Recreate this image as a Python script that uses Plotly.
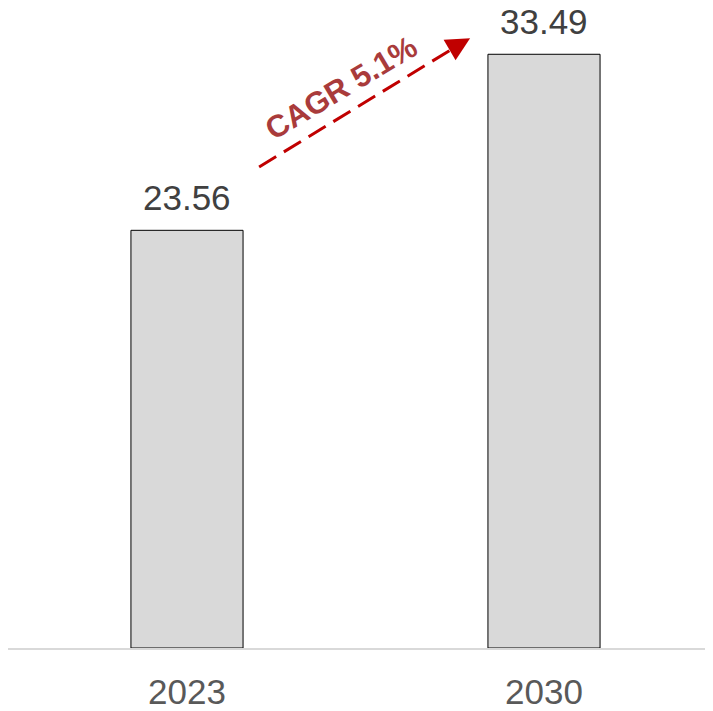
import plotly.graph_objects as go

# Data
years = ["2023", "2030"]
market_size = [23.56, 33.49]
cagr_label = "CAGR 5.1%"

# Colors
BAR_FILL = "#D9D9D9"
BAR_EDGE = "#000000"
AXIS_LINE = "#D9D9D9"
VALUE_TEXT = "#404040"
TICK_TEXT = "#595959"
ARROW_RED = "#C00000"
CAGR_TEXT = "#A93B3B"

FONT = "Arial, Liberation Sans, sans-serif"

fig = go.Figure()

fig.add_trace(go.Bar(
    x=years,
    y=market_size,
    width=0.314,
    marker=dict(color=BAR_FILL, line=dict(color=BAR_EDGE, width=1)),
    hoverinfo="skip",
))

# value labels above bars
annotations = []
for i, val in enumerate(market_size):
    annotations.append(dict(
        x=i, y=val, xref="x", yref="y", text=f"{val:.2f}",
        showarrow=False, yanchor="bottom", yshift=11,
        font=dict(family=FONT, size=35, color=VALUE_TEXT),
    ))

# dashed CAGR arrow between the bars
x0, y0 = 0.202, market_size[0] + 3.57
x1, y1 = 0.793, market_size[1] + 0.91
fig.add_shape(
    type="line", xref="x", yref="y",
    x0=x0, y0=y0, x1=x1 - 0.034, y1=y1 - 0.41,
    line=dict(color=ARROW_RED, width=3, dash="20px,9px"),
)
annotations.append(dict(
    x=x1, y=y1, xref="x", yref="y",
    ax=-12, ay=7, axref="pixel", ayref="pixel",
    text="", showarrow=True, arrowhead=2, arrowsize=1.9,
    arrowwidth=2.5, arrowcolor=ARROW_RED, standoff=0,
))
annotations.append(dict(
    x=0.434, y=31.6, xref="x", yref="y",
    text=f"<b>{cagr_label}</b>", showarrow=False, textangle=-31,
    font=dict(family=FONT, size=31, color=CAGR_TEXT),
))

# page body has an 8px margin, so the figure is 8px smaller than the window
fig.update_layout(
    width=705, height=703,
    margin=dict(l=0, r=0, t=0, b=63),
    plot_bgcolor="white", paper_bgcolor="white",
    showlegend=False,
    annotations=annotations,
    xaxis=dict(
        type="category",
        range=[-0.5014, 1.4734],
        automargin=False,
        showline=True, linecolor=AXIS_LINE, linewidth=2,
        showgrid=False, ticks="",
        ticklabelstandoff=12,
        tickfont=dict(family=FONT, size=35, color=TICK_TEXT),
    ),
    yaxis=dict(
        range=[0, 36.1], visible=False, showgrid=False, zeroline=False,
    ),
)

fig.write_html("out.html")
